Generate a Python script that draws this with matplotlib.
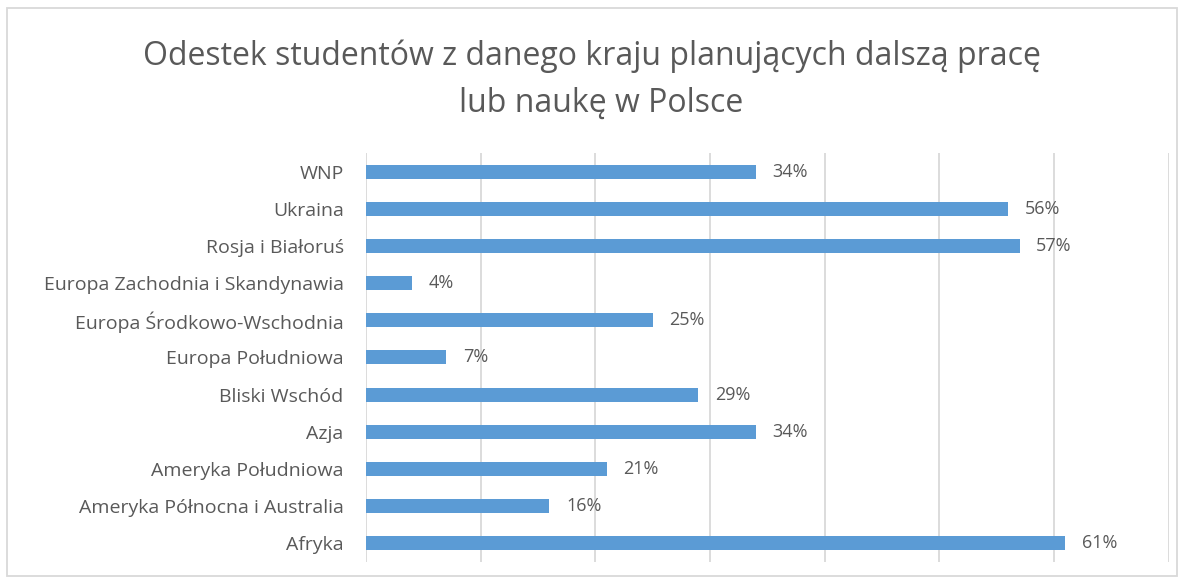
import matplotlib.pyplot as plt
from matplotlib.patches import Rectangle

# data (top to bottom as in the chart)
regions = ['WNP', 'Ukraina', 'Rosja i Białoruś', 'Europa Zachodnia i Skandynawia',
           'Europa Środkowo-Wschodnia', 'Europa Południowa', 'Bliski Wschód', 'Azja',
           'Ameryka Południowa', 'Ameryka Północna i Australia', 'Afryka']
shares = [34, 56, 57, 4, 25, 7, 29, 34, 21, 16, 61]

title_lines = ['Odestek studentów z danego kraju planujących dalszą pracę',
               'lub naukę w Polsce']

plt.rcParams['font.family'] = ['Open Sans', 'DejaVu Sans']
txt_col = '#595959'
bar_col = '#5b9bd5'

fig = plt.figure(figsize=(11.84, 5.84), dpi=100)
ax = fig.add_axes([0.309, 0.038, 0.678, 0.700])

ypos = list(range(len(regions)))[::-1]
ax.barh(ypos, shares, height=0.375, color=bar_col, zorder=3)

for y, v in zip(ypos, shares):
    ax.annotate('{}%'.format(v), (v, y), xytext=(12, 0), textcoords='offset points',
                va='center', ha='left', fontsize=13, color=txt_col)

ax.set_xlim(0, 70)
ax.set_ylim(-0.5, len(regions) - 0.5)
ax.set_xticks(range(0, 71, 10))
ax.set_xticklabels([])
ax.set_yticks(ypos)
ax.set_yticklabels(regions, fontsize=14, color=txt_col)
ax.tick_params(length=0, pad=16)
ax.tick_params(axis='x', length=0)
ax.grid(axis='x', color='#d9d9d9', linewidth=1.3, zorder=0)
for s in ax.spines.values():
    s.set_visible(False)

# two title lines, baselines
fig.text(0.5, 0.8887, title_lines[0], ha='center', va='baseline', fontsize=23, color=txt_col)
fig.text(0.508, 0.8082, title_lines[1], ha='center', va='baseline', fontsize=23, color=txt_col)

# outer chart border
fig.patches.append(Rectangle((0.006, 0.013), 0.988, 0.974, transform=fig.transFigure,
                             fill=False, edgecolor='#d9d9d9', linewidth=1.3))

fig.savefig('out.png', dpi=100)
